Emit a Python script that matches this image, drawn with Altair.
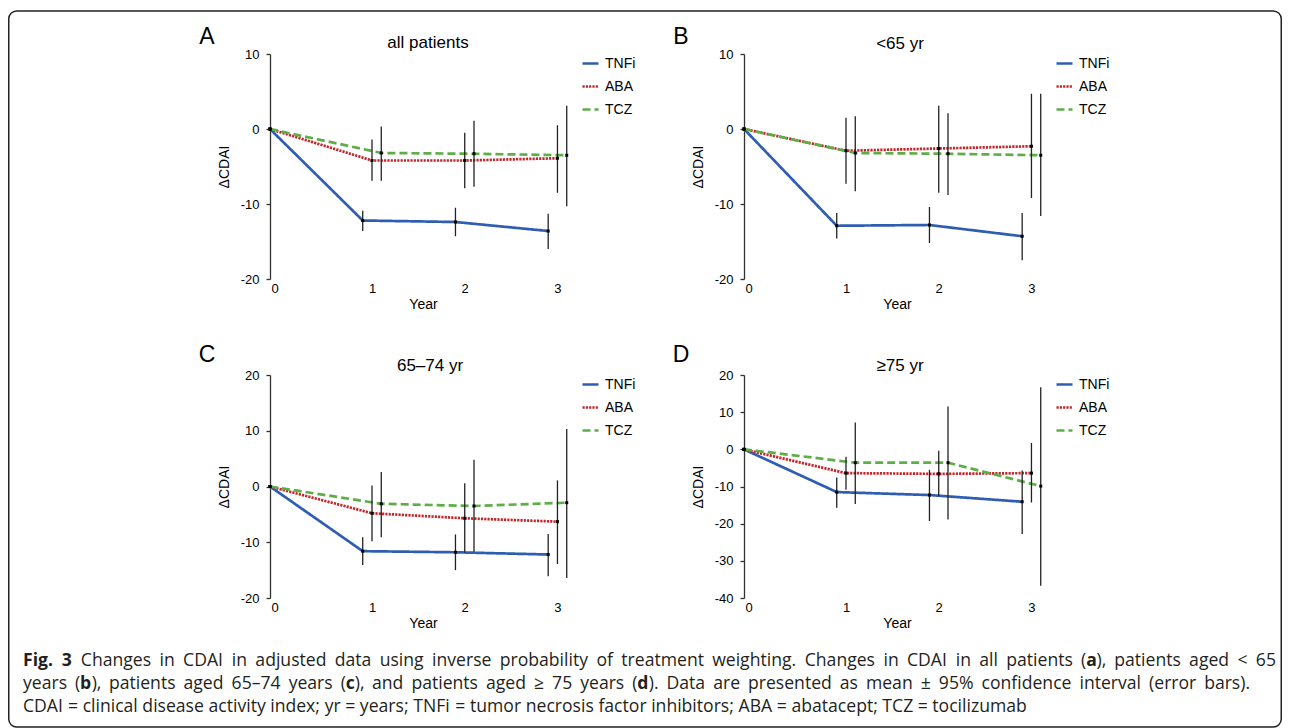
import altair as alt
import pandas as pd

FONT = "Liberation Sans"
CAP_FONT = "Open Sans"

SERIES = ["TNFi", "ABA", "TCZ"]
COLORS = ["#2f5db3", "#c0282d", "#5eae48"]
DASHES = [[1, 0], [2.2, 1.1], [8, 4]]
YEARS = [0, 1, 2, 3]
X_SHIFT = {"TNFi": 0.0, "ABA": 0.1, "TCZ": 0.2}

# Panel A: all patients
a_tnfi = [0, -12.2, -12.4, -13.6]
a_tnfi_lo = [0, -13.6, -14.3, -16.0]
a_tnfi_hi = [0, -10.9, -10.5, -11.3]
a_aba = [0, -4.2, -4.2, -3.9]
a_aba_lo = [0, -6.9, -7.9, -8.5]
a_aba_hi = [0, -1.4, -0.5, 0.5]
a_tcz = [0, -3.2, -3.3, -3.5]
a_tcz_lo = [0, -6.9, -7.7, -10.3]
a_tcz_hi = [0, 0.35, 1.1, 3.1]

# Panel B: <65 yr
b_tnfi = [0, -12.9, -12.8, -14.3]
b_tnfi_lo = [0, -14.6, -15.2, -17.5]
b_tnfi_hi = [0, -11.2, -10.4, -11.2]
b_aba = [0, -2.9, -2.6, -2.3]
b_aba_lo = [0, -7.3, -8.5, -9.2]
b_aba_hi = [0, 1.5, 3.1, 4.7]
b_tcz = [0, -3.2, -3.3, -3.5]
b_tcz_lo = [0, -8.3, -8.8, -11.6]
b_tcz_hi = [0, 1.7, 2.1, 4.7]

# Panel C: 65-74 yr
c_tnfi = [0, -11.6, -11.8, -12.2]
c_tnfi_lo = [0, -14.1, -15.0, -16.1]
c_tnfi_hi = [0, -9.1, -8.6, -8.5]
c_aba = [0, -4.8, -5.7, -6.3]
c_aba_lo = [0, -9.8, -11.9, -13.9]
c_aba_hi = [0, 0.2, 0.6, 1.1]
c_tcz = [0, -3.1, -3.5, -2.9]
c_tcz_lo = [0, -9.1, -11.7, -16.4]
c_tcz_hi = [0, 2.6, 4.8, 10.3]

# Panel D: >=75 yr
d_tnfi = [0, -11.5, -12.3, -14.1]
d_tnfi_lo = [0, -15.7, -19.3, -22.8]
d_tnfi_hi = [0, -7.6, -5.5, -5.7]
d_aba = [0, -6.4, -6.6, -6.4]
d_aba_lo = [0, -10.9, -12.6, -14.3]
d_aba_hi = [0, -2.0, -0.4, 1.7]
d_tcz = [0, -3.6, -3.6, -9.9]
d_tcz_lo = [0, -14.7, -18.9, -36.7]
d_tcz_hi = [0, 7.2, 11.5, 16.7]

X_LABEL_AT = [0.05, 1.1, 2.1, 3.1]

# caption lines; **x** marks bold runs
CAP_LINE1 = "**Fig.** **3** Changes in CDAI in adjusted data using inverse probability of treatment weighting. Changes in CDAI in all patients (**a**), patients aged < 65"
CAP_LINE2 = "years (**b**), patients aged 65–74 years (**c**), and patients aged ≥ 75 years (**d**). Data are presented as mean ± 95% confidence interval (error bars)."
CAP_LINE3 = "CDAI = clinical disease activity index; yr = years; TNFi = tumor necrosis factor inhibitors; ABA = abatacept; TCZ = tocilizumab"

W = 306
ONE = pd.DataFrame({"k": [0]})

# approximate Open Sans advance widths (em)
OS_W = {" ": 0.26, "a": 0.556, "b": 0.613, "c": 0.476, "d": 0.613, "e": 0.561, "f": 0.339,
        "g": 0.548, "h": 0.614, "i": 0.253, "j": 0.253, "k": 0.525, "l": 0.253, "m": 0.93,
        "n": 0.614, "o": 0.604, "p": 0.613, "q": 0.613, "r": 0.408, "s": 0.477, "t": 0.353,
        "u": 0.614, "v": 0.501, "w": 0.778, "x": 0.524, "y": 0.502, "z": 0.454,
        "A": 0.633, "B": 0.648, "C": 0.631, "D": 0.729, "F": 0.549, "I": 0.303, "N": 0.781,
        "T": 0.55, "Z": 0.565, "(": 0.286, ")": 0.286, ",": 0.245, ".": 0.266, ";": 0.266,
        "=": 0.572, "<": 0.572, "≥": 0.572, "±": 0.572, "%": 0.828, "–": 0.5, "-": 0.322}


def tw(s, size, bold):
    w = sum(OS_W.get(ch, 0.572) for ch in s) * size
    return w * (1.07 if bold else 1.0)


def runs_of(word):
    parts = word.split("**")
    return [(p, i % 2 == 1) for i, p in enumerate(parts) if p]


def layout_line(line, x0, x1, y, size, justify):
    words = [runs_of(w) for w in line.split(" ")]
    widths = [sum(tw(t, size, b) for t, b in w) for w in words]
    gap = size * OS_W[" "]
    if justify and len(words) > 1:
        gap = (x1 - x0 - sum(widths)) / (len(words) - 1)
    rows = []
    x = x0
    for w, ww in zip(words, widths):
        xx = x
        for t, b in w:
            rows.append({"t": t, "px": xx, "py": y, "bold": b})
            xx += tw(t, size, b)
        x += ww + gap
    return rows


def build_df(groups):
    rows = []
    for name, m, lo, hi in groups:
        for yr, mv, l, h in zip(YEARS, m, lo, hi):
            rows.append({
                "series": name, "year": yr,
                "x": yr + X_SHIFT[name] if yr > 0 else 0.0,
                "mean": mv, "lo": l, "hi": h,
            })
    return pd.DataFrame(rows)


def panel(df, letter, title, ydom, yvals, H, letter_y, title_x, title_y):
    x_axis = alt.Axis(values=X_LABEL_AT, labelExpr="'' + round(datum.value)",
                      domain=False, ticks=False, tickSize=0, grid=False,
                      labelPadding=3, title="Year", titlePadding=2,
                      labelFontSize=13, titleFontSize=14, labelFlush=False)
    y_axis = alt.Axis(values=yvals, labelExpr="'' + datum.value", grid=False,
                      tickSize=4, labelPadding=7, title="ΔCDAI", titlePadding=9,
                      labelFontSize=13, titleFontSize=14,
                      domainColor="#333", tickColor="#333", domainWidth=1.3, tickWidth=1.3)
    xs = alt.X("x:Q", scale=alt.Scale(domain=[0, 3.3], nice=False, zero=False), axis=x_axis)
    ys = alt.Scale(domain=ydom, nice=False, zero=False)
    leg = alt.Legend(title=None, orient="none", legendX=W + 5, legendY=0,
                     symbolType="stroke", symbolSize=256, symbolStrokeWidth=2.5,
                     labelFontSize=14, labelOffset=5, rowPadding=6, labelFont=FONT,
                     labelColor="#000")
    color = alt.Color("series:N", scale=alt.Scale(domain=SERIES, range=COLORS), legend=leg)
    dash = alt.StrokeDash("series:N", scale=alt.Scale(domain=SERIES, range=DASHES), legend=leg)
    base = alt.Chart(df)
    lines = base.mark_line(strokeWidth=2.7, strokeCap="butt").encode(
        x=xs, y=alt.Y("mean:Q", scale=ys, axis=y_axis), color=color, strokeDash=dash,
        order="year:Q")
    bars = base.transform_filter("datum.year > 0").mark_rule(color="#222", strokeWidth=1.3).encode(
        x=xs, y=alt.Y("lo:Q", scale=ys, axis=y_axis), y2="hi:Q")
    pts = base.mark_square(size=9, color="#000", opacity=1).encode(
        x=xs, y=alt.Y("mean:Q", scale=ys, axis=y_axis))
    lab = alt.Chart(ONE).mark_text(text=letter, fontSize=23, font=FONT, align="center",
                                   baseline="middle", color="#000").encode(
        x=alt.value(-63), y=alt.value(letter_y))
    ttl = alt.Chart(ONE).mark_text(text=title, fontSize=17, font=FONT, align="center",
                                   baseline="alphabetic", color="#000").encode(
        x=alt.value(title_x), y=alt.value(title_y))
    return alt.layer(lines, bars, pts, lab, ttl).properties(width=W, height=H)


dfA = build_df([("TNFi", a_tnfi, a_tnfi_lo, a_tnfi_hi), ("ABA", a_aba, a_aba_lo, a_aba_hi), ("TCZ", a_tcz, a_tcz_lo, a_tcz_hi)])
dfB = build_df([("TNFi", b_tnfi, b_tnfi_lo, b_tnfi_hi), ("ABA", b_aba, b_aba_lo, b_aba_hi), ("TCZ", b_tcz, b_tcz_lo, b_tcz_hi)])
dfC = build_df([("TNFi", c_tnfi, c_tnfi_lo, c_tnfi_hi), ("ABA", c_aba, c_aba_lo, c_aba_hi), ("TCZ", c_tcz, c_tcz_lo, c_tcz_hi)])
dfD = build_df([("TNFi", d_tnfi, d_tnfi_lo, d_tnfi_hi), ("ABA", d_aba, d_aba_lo, d_aba_hi), ("TCZ", d_tcz, d_tcz_lo, d_tcz_hi)])

pA = panel(dfA, "A", "all patients", [-20, 10], [-20, -10, 0, 10], 225, -17, 158, -6)
pB = panel(dfB, "B", "<65 yr", [-20, 10], [-20, -10, 0, 10], 225, -17, 156, -5)
pC = panel(dfC, "C", "65–74 yr", [-20, 20], [-20, -10, 0, 10, 20], 223, -20, 160, -4)
pD = panel(dfD, "D", "≥75 yr", [-40, 20], [-40, -30, -20, -10, 0, 10, 20], 223, -20, 156, -4)

# caption cell origin sits at page (270, 693.7)
CAP_SIZE = 17.6
CAP_X0, CAP_X1, CAP_X1B = -247, 1006, 980
cap_rows = (layout_line(CAP_LINE1, CAP_X0, CAP_X1, -27.7, CAP_SIZE, True)
            + layout_line(CAP_LINE2, CAP_X0, CAP_X1B, -4.7, CAP_SIZE, True)
            + layout_line(CAP_LINE3, CAP_X0, CAP_X1, 18.3, CAP_SIZE, False))
cap_df = pd.DataFrame(cap_rows)


def cap_layer(bold):
    return alt.Chart(cap_df).transform_filter(
        "datum.bold" if bold else "!datum.bold").mark_text(
        fontSize=CAP_SIZE, font=CAP_FONT, fontWeight="bold" if bold else "normal",
        align="left", baseline="alphabetic", color="#231f20").encode(
        x=alt.X("px:Q", scale=None, axis=None), y=alt.Y("py:Q", scale=None, axis=None),
        text="t:N")


frame = alt.Chart(ONE).mark_rect(fillOpacity=0, stroke="#222", strokeWidth=1.5, cornerRadius=8).encode(
    x=alt.value(-261.25), x2=alt.value(1011.25), y=alt.value(-683), y2=alt.value(33))
caption = alt.layer(frame, cap_layer(False), cap_layer(True)).properties(width=W, height=10)

chart = alt.concat(pA, pB, pC, pD, caption, columns=2, spacing={"row": 96, "column": 168},
                   bounds="flush").resolve_scale(
    x="independent", y="independent").resolve_legend(
    color="independent", strokeDash="independent").properties(
    padding={"left": 0, "top": 2, "right": 0, "bottom": 0}).configure(
    font=FONT).configure_view(strokeWidth=0).configure_axis(
    labelColor="#000", titleColor="#000", titleFontWeight="normal", labelFont=FONT, titleFont=FONT)

chart.save("out.html", embed_options={"renderer": "svg", "actions": False})
